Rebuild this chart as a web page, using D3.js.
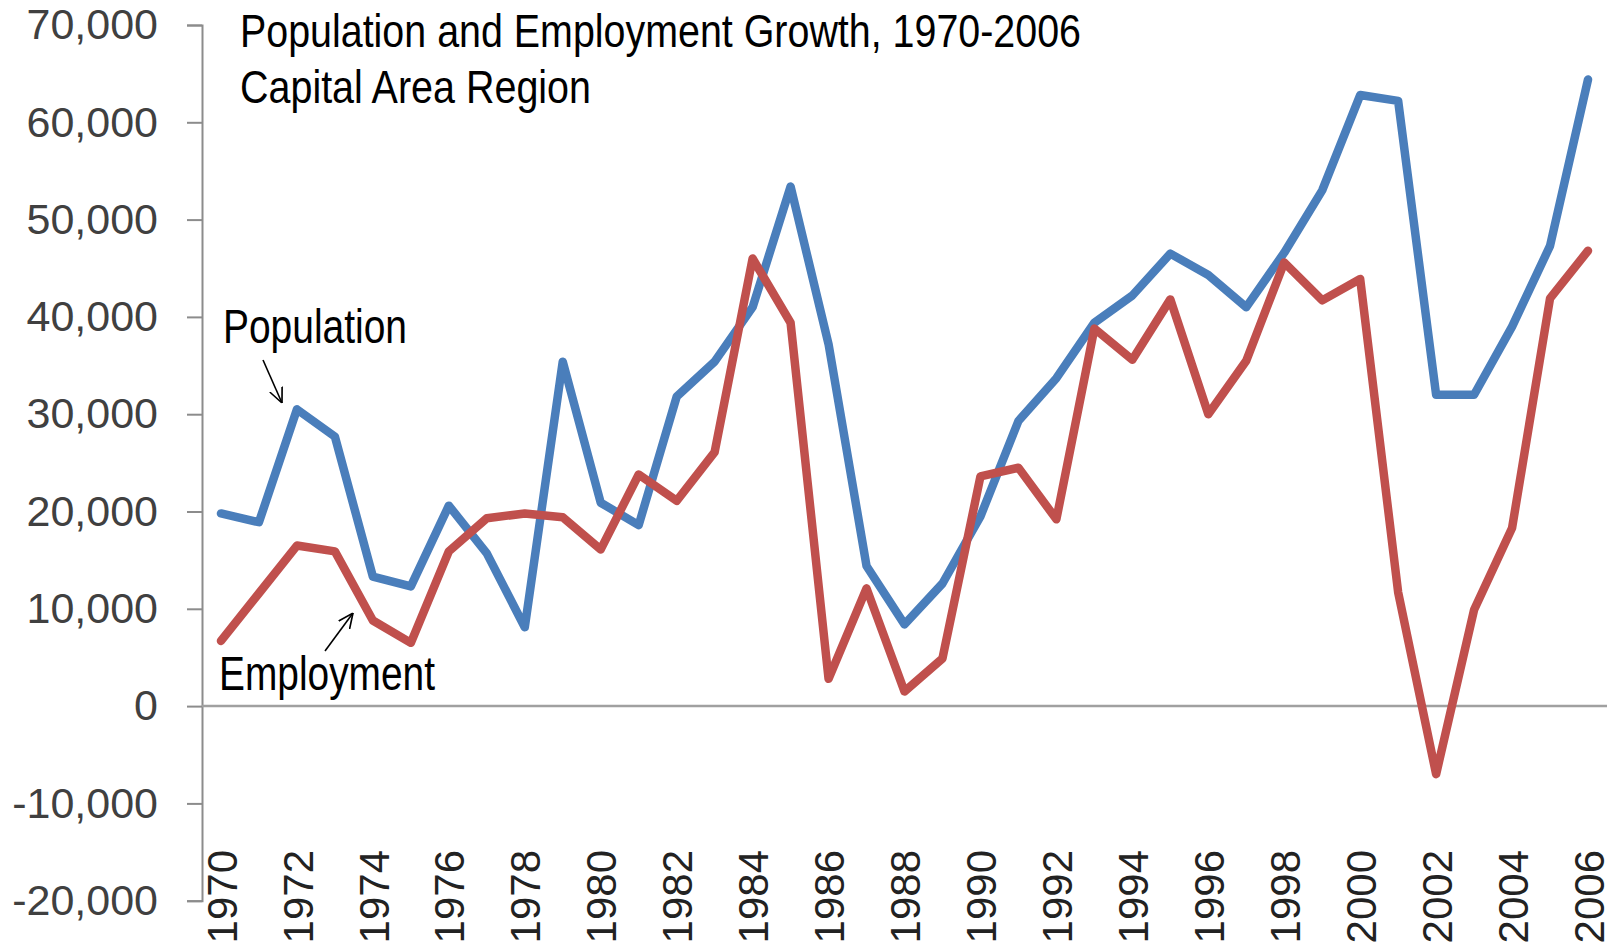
<!DOCTYPE html>
<html>
<head>
<meta charset="utf-8">
<script src="https://cdn.jsdelivr.net/npm/d3@7"></script>
<style>
  body { margin: 0; background: #fff; }
  svg { display: block; }
</style>
</head>
<body>
<svg id="chart" width="1620" height="950"></svg>
<script>
const years = [1970, 1971, 1972, 1973, 1974, 1975, 1976, 1977, 1978, 1979,
  1980, 1981, 1982, 1983, 1984, 1985, 1986, 1987, 1988, 1989,
  1990, 1991, 1992, 1993, 1994, 1995, 1996, 1997, 1998, 1999,
  2000, 2001, 2002, 2003, 2004, 2005, 2006]

const population = [19800, 18900, 30500, 27700, 13300, 12300, 20600, 15700, 8100, 35400,
  20900, 18600, 31800, 35400, 41000, 53400, 37200, 14400, 8400, 12600,
  19500, 29300, 33700, 39400, 42200, 46500, 44300, 41000, 46600, 53000,
  62800, 62200, 32000, 32000, 39000, 47300, 64400]

const employment = [6700, 11600, 16500, 15900, 8800, 6500, 15900, 19300, 19800, 19400,
  16100, 23800, 21100, 26100, 46000, 39400, 2800, 12100, 1500, 4900,
  23600, 24500, 19200, 38800, 35600, 41800, 30000, 35500, 45600, 41700,
  43900, 11700, -7000, 9900, 18300, 41900, 46800]

const yTicks = [-20000, -10000, 0, 10000, 20000, 30000, 40000, 50000, 60000, 70000]
const xTickYears = [1970, 1972, 1974, 1976, 1978, 1980, 1982, 1984, 1986, 1988,
  1990, 1992, 1994, 1996, 1998, 2000, 2002, 2004, 2006]

const titleLines = ['Population and Employment Growth, 1970-2006', 'Capital Area Region']

const svg = d3.select('#chart')

const plotLeft = 202, plotRight = 1607, plotTop = 25, plotBottom = 900.7

const x = d3.scalePoint()
  .domain(years)
  .range([plotLeft, plotRight])
  .padding(0.5)

const y = d3.scaleLinear()
  .domain([-20000, 70000])
  .range([plotBottom, plotTop])

// y axis
const fmt = d3.format(',')
const yAxis = svg.append('g')
  .attr('transform', `translate(${plotLeft},0)`)
  .call(d3.axisLeft(y).tickValues(yTicks).tickSize(15).tickPadding(29)
    .tickFormat(d => fmt(d).replace('\u2212', '-')))

yAxis.select('.domain').attr('stroke', '#8c8c8c').attr('stroke-width', 2)
yAxis.selectAll('.tick line').attr('stroke', '#8c8c8c').attr('stroke-width', 2)
yAxis.selectAll('.tick text')
  .attr('font-family', '"Liberation Sans", Arial, sans-serif')
  .attr('font-size', '43px')
  .attr('fill', '#404040')

// zero line
svg.append('line')
  .attr('x1', plotLeft).attr('x2', plotRight)
  .attr('y1', y(0)).attr('y2', y(0))
  .attr('stroke', '#a0a0a0')
  .attr('stroke-width', 2.5)

// x labels
const xAxis = svg.append('g')
  .attr('transform', 'translate(0,850)')
  .call(d3.axisBottom(x).tickValues(xTickYears).tickSize(0))

xAxis.select('.domain').remove()
xAxis.selectAll('.tick text')
  .attr('transform', 'rotate(-90)')
  .attr('x', 0)
  .attr('y', 0)
  .attr('dy', '0.36em')
  .attr('text-anchor', 'end')
  .attr('font-family', '"Liberation Sans", Arial, sans-serif')
  .attr('font-size', '42px')
  .attr('fill', '#222')

// lines
const line = d3.line()
  .x((d, i) => x(years[i]))
  .y(d => y(d))

svg.append('path')
  .datum(population)
  .attr('d', line)
  .attr('fill', 'none')
  .attr('stroke', '#4a7ebb')
  .attr('stroke-width', 8.5)
  .attr('stroke-linejoin', 'round')
  .attr('stroke-linecap', 'round')

svg.append('path')
  .datum(employment)
  .attr('d', line)
  .attr('fill', 'none')
  .attr('stroke', '#c0504d')
  .attr('stroke-width', 8.5)
  .attr('stroke-linejoin', 'round')
  .attr('stroke-linecap', 'round')

// title
const narrow = '"Liberation Sans Narrow", "Arial Narrow", "Liberation Sans", sans-serif'
svg.append('text')
  .attr('x', 240).attr('y', 46.5)
  .attr('font-family', narrow)
  .attr('font-size', '46px')
  .attr('textLength', 841)
  .attr('lengthAdjust', 'spacingAndGlyphs')
  .attr('fill', '#000')
  .text(titleLines[0])

svg.append('text')
  .attr('x', 240).attr('y', 103)
  .attr('font-family', narrow)
  .attr('font-size', '46px')
  .attr('textLength', 351)
  .attr('lengthAdjust', 'spacingAndGlyphs')
  .attr('fill', '#000')
  .text(titleLines[1])

// annotations
svg.append('defs').append('marker')
  .attr('id', 'arrow')
  .attr('viewBox', '0 0 10 10')
  .attr('refX', 10).attr('refY', 5)
  .attr('markerWidth', 15).attr('markerHeight', 15)
  .attr('markerUnits', 'userSpaceOnUse')
  .attr('orient', 'auto')
  .append('path')
  .attr('d', 'M0,0.5 L10,5 L0,9.5')
  .attr('fill', 'none')
  .attr('stroke', '#000')
  .attr('stroke-width', 1.1)

svg.append('text')
  .attr('x', 223).attr('y', 343)
  .attr('font-family', narrow)
  .attr('font-size', '48px')
  .attr('textLength', 184)
  .attr('lengthAdjust', 'spacingAndGlyphs')
  .text('Population')

svg.append('line')
  .attr('x1', 263).attr('y1', 360)
  .attr('x2', 282).attr('y2', 403)
  .attr('stroke', '#000').attr('stroke-width', 1.6)
  .attr('marker-end', 'url(#arrow)')

svg.append('text')
  .attr('x', 219).attr('y', 690)
  .attr('font-family', narrow)
  .attr('font-size', '48px')
  .attr('textLength', 216)
  .attr('lengthAdjust', 'spacingAndGlyphs')
  .text('Employment')

svg.append('line')
  .attr('x1', 325).attr('y1', 651)
  .attr('x2', 353).attr('y2', 613)
  .attr('stroke', '#000').attr('stroke-width', 1.6)
  .attr('marker-end', 'url(#arrow)')
</script>
</body>
</html>
